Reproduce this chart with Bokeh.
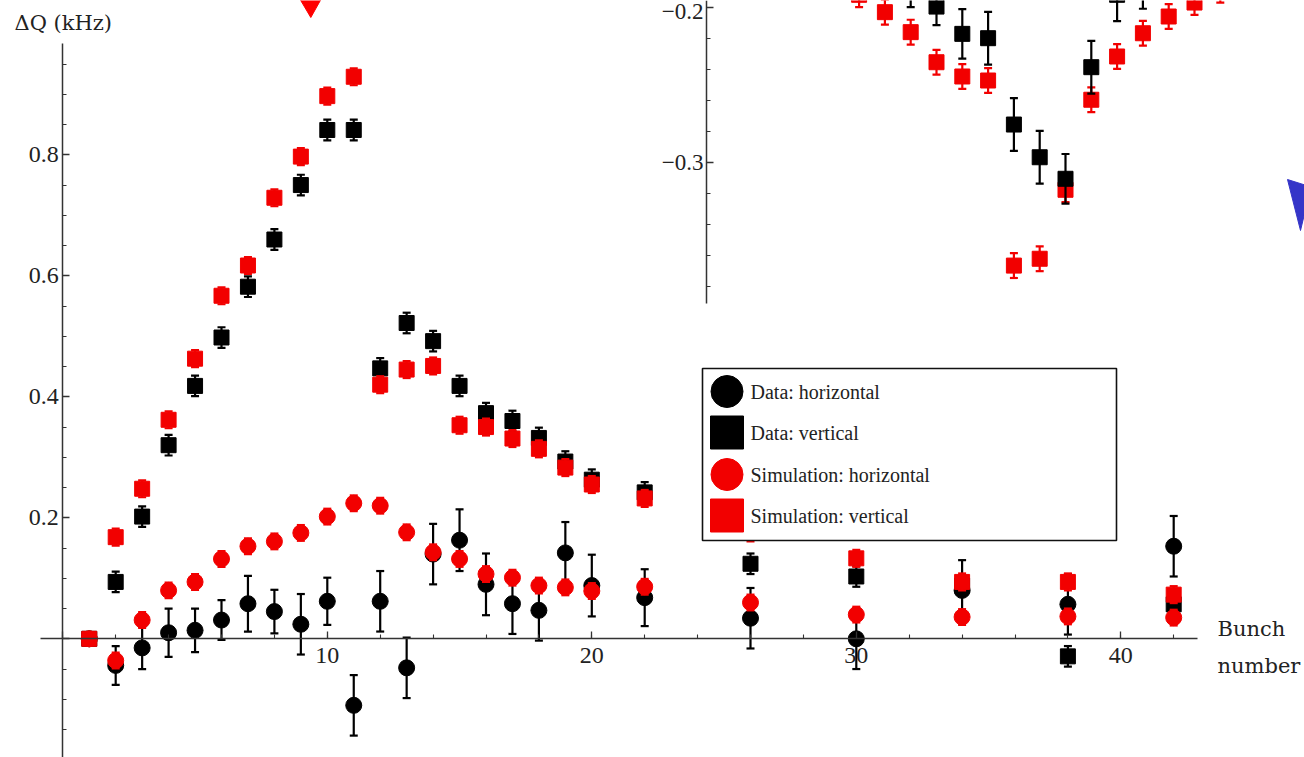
from bokeh.plotting import figure
from bokeh.models import Range1d, LinearAxis, SingleIntervalTicker, CustomJSTickFormatter, Label
from bokeh.core.properties import value
from bokeh.embed import file_html
from bokeh.resources import INLINE

# ---------------- main plot data ----------------
bunch = [1, 2, 3, 4, 5, 6, 7, 8, 9, 10, 11, 12, 13, 14, 15, 16, 17, 18, 19, 20, 22, 26, 30, 34, 38, 42]

data_h = [0.0, -0.044, -0.015, 0.010, 0.014, 0.031, 0.058, 0.045, 0.024, 0.062, -0.110, 0.062, -0.048,
          0.140, 0.163, 0.090, 0.058, 0.047, 0.142, 0.088, 0.068, 0.034, 0.000, 0.080, 0.057, 0.153]
data_h_err = [0.0, 0.032, 0.035, 0.040, 0.036, 0.033, 0.046, 0.036, 0.050, 0.039, 0.050, 0.050, 0.050,
              0.050, 0.051, 0.051, 0.050, 0.050, 0.051, 0.051, 0.047, 0.050, 0.050, 0.050, 0.050, 0.050]

data_v = [0.0, 0.094, 0.202, 0.320, 0.418, 0.498, 0.582, 0.660, 0.750, 0.841, 0.841, 0.447, 0.522,
          0.492, 0.418, 0.373, 0.360, 0.332, 0.293, 0.263, 0.242, 0.124, 0.103, 0.088, -0.029, 0.057]
data_v_err = [0.0] + [0.017] * 25

sim_h = [0.0, -0.036, 0.031, 0.080, 0.094, 0.132, 0.153, 0.161, 0.175, 0.202, 0.224, 0.220, 0.176,
         0.143, 0.132, 0.107, 0.101, 0.088, 0.085, 0.079, 0.086, 0.060, 0.040, 0.036, 0.037, 0.035]
sim_h_err = [0.0] + [0.013] * 25

sim_v = [0.0, 0.168, 0.248, 0.362, 0.463, 0.567, 0.617, 0.729, 0.797, 0.897, 0.929, 0.420, 0.445,
         0.451, 0.353, 0.350, 0.331, 0.314, 0.283, 0.255, 0.232, 0.175, 0.133, 0.094, 0.094, 0.073]
sim_v_err = [0.0] + [0.014] * 25

# ---------------- inset data ----------------
inset_bunch = [0, 1, 2, 3, 4, 5, 6, 7, 8, 9, 10, 11, 12, 13, 14]
inset_sim_v = [-0.192, -0.2032, -0.2161, -0.2355, -0.2447, -0.2473, -0.3667, -0.3623, -0.3178,
               -0.2597, -0.2318, -0.2168, -0.2060, -0.197, -0.189]
inset_sim_v_err = [0.008] * 15

inset_data_bunch = [2, 3, 4, 5, 6, 7, 8, 9, 10, 11]
inset_data_v = [-0.183, -0.1996, -0.2172, -0.2200, -0.2757, -0.2968, -0.3107, -0.2387, -0.192, -0.184]
inset_data_v_err = [0.017, 0.012, 0.016, 0.017, 0.017, 0.017, 0.016, 0.017, 0.017, 0.017]

inset_ticks = [-0.2, -0.3]
inset_tick_labels = ["\u22120.2", "\u22120.3"]

legend_labels = ["Data: horizontal", "Data: vertical", "Simulation: horizontal", "Simulation: vertical"]

RED = "#f20000"
BLACK = "#000000"
AXIS = "#333333"
SERIF = "DejaVu Serif"
TIMES = "Liberation Serif"

W, H = 1304, 757

p = figure(width=W, height=H, output_backend="svg", toolbar_location=None, title=None,
           x_range=Range1d(-62.3 / 26.45, (W - 62.3) / 26.45),
           y_range=Range1d(-(H - 638.3) / 605.0, 638.3 / 605.0),
           min_border=0, min_border_left=0, min_border_right=0, min_border_top=0, min_border_bottom=0)
p.outline_line_color = None
p.grid.visible = False
p.background_fill_color = "white"
p.border_fill_color = "white"

p.extra_x_ranges = {"inset": Range1d(-858.6 / 25.8, (W - 858.6) / 25.8), "px": Range1d(0, W)}
p.extra_y_ranges = {"inset": Range1d(-0.2 - (H - 6.7) / 1550.0, -0.2 + 6.7 / 1550.0), "px": Range1d(H, 0)}

# ---- main axes (Mathematica style: crossing at origin) ----
xa = p.xaxis[0]
xa.fixed_location = 0
xa.bounds = (-0.84, 42.9)
xa.ticker = SingleIntervalTicker(interval=10, num_minor_ticks=5)
xa.formatter = CustomJSTickFormatter(code="return Math.abs(tick) < 1e-9 ? '' : tick.toFixed(0);")
ya = p.yaxis[0]
ya.fixed_location = 0
ya.bounds = (-0.2, 0.9835)
ya.ticker = SingleIntervalTicker(interval=0.2, num_minor_ticks=4)
ya.formatter = CustomJSTickFormatter(code="return tick < 1e-9 ? '' : tick.toFixed(1);")

inset_axis = LinearAxis(y_range_name="inset", fixed_location=24.35, bounds=(-0.391, -0.18),
                        ticker=SingleIntervalTicker(interval=0.1, num_minor_ticks=5),
                        formatter=CustomJSTickFormatter(code="return '';"))
p.add_layout(inset_axis, "left")

for ax in (xa, ya, inset_axis):
    ax.axis_line_color = AXIS
    ax.axis_line_width = 1.5
    ax.major_tick_line_color = AXIS
    ax.minor_tick_line_color = AXIS
    ax.major_tick_line_width = 1.3
    ax.minor_tick_line_width = 1.1
    ax.major_tick_in = 7
    ax.major_tick_out = 0
    ax.minor_tick_in = 4
    ax.minor_tick_out = 0
    ax.major_label_text_font = TIMES
    ax.major_label_text_font_size = "24px"
    ax.major_label_text_color = "#222222"
    ax.major_label_standoff = 4
xa.major_label_standoff = 9

# inset tick labels (placed as text so the top one stays inside the picture)
p.text(x=[703, 703], y=inset_ticks, text=inset_tick_labels, text_align="right", text_baseline="middle",
       y_offset=[4, 0], text_font=value(TIMES), text_font_size="23px", text_color="#222222",
       x_range_name="px", y_range_name="inset")


def series(xs, ys, errs, marker, color, size, xr="default", yr="default"):
    lo = [y - e for y, e in zip(ys, errs)]
    hi = [y + e for y, e in zip(ys, errs)]
    kw = dict(x_range_name=xr, y_range_name=yr)
    p.segment(x0=xs, y0=lo, x1=xs, y1=hi, line_color=color, line_width=2.2, **kw)
    p.scatter(x=xs, y=lo, marker="dash", size=8, line_color=color, line_width=2.2, **kw)
    p.scatter(x=xs, y=hi, marker="dash", size=8, line_color=color, line_width=2.2, **kw)
    p.scatter(x=xs, y=ys, marker=marker, size=size, fill_color=color, line_color=color, **kw)


# inset (upper right)
series(inset_bunch, inset_sim_v, inset_sim_v_err, "square", RED, 15, "inset", "inset")
series(inset_data_bunch, inset_data_v, inset_data_v_err, "square", BLACK, 15, "inset", "inset")

# main plot
series(bunch, data_h, data_h_err, "circle", BLACK, 16)
series(bunch, data_v, data_v_err, "square", BLACK, 15)
series(bunch, sim_h, sim_h_err, "circle", RED, 16)
series(bunch, sim_v, sim_v_err, "square", RED, 15)

# ---- legend (drawn in pixel space) ----
px = dict(x_range_name="px", y_range_name="px")
p.quad(left=[702], right=[1116], top=[368], bottom=[540], fill_color="white",
       line_color="#111111", line_width=1.6, **px)
leg_y = [391, 432, 474, 515]
p.scatter(x=[726.5] * 4, y=leg_y, marker=["circle", "square", "circle", "square"],
          size=[32, 33, 32, 33], fill_color=[BLACK, BLACK, RED, RED],
          line_color=[BLACK, BLACK, RED, RED], **px)
p.text(x=[750] * 4, y=leg_y, text=legend_labels, text_font=value(TIMES), text_font_size="20px",
       text_baseline="middle", text_color="#222222", **px)

# ---- axis titles ----
p.add_layout(Label(x=14, y=22, text="\u0394Q (kHz)", text_font=SERIF, text_font_size="21px",
                   text_baseline="middle", text_color="#222222", **px))
p.add_layout(Label(x=1217, y=628, text="Bunch", text_font=SERIF, text_font_size="21px",
                   text_baseline="alphabetic", text_color="#222222", **px))
p.add_layout(Label(x=1217, y=665, text="number", text_font=SERIF, text_font_size="21px",
                   text_baseline="alphabetic", text_color="#222222", **px))

# ---- arrow marks ----
p.patch(x=[298.5, 321.5, 310.3], y=[-3, -3, 17], fill_color="#ff0000", line_color="#ff0000", **px)
p.patch(x=[1287, 1306, 1306, 1300], y=[179, 185, 205, 230], fill_color="#3535c8",
        line_color="#3535c8", **px)

open("out.html", "w").write(file_html(p, INLINE))
